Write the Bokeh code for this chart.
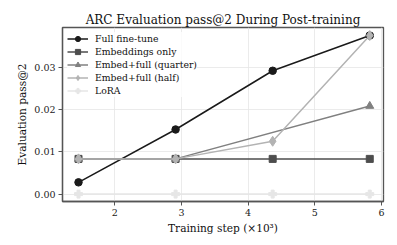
from bokeh.plotting import figure
from bokeh.embed import file_html
from bokeh.resources import INLINE
from bokeh.models import FixedTicker, NumeralTickFormatter, Range1d, Legend, LegendItem

steps = [1.456, 2.912, 4.368, 5.824]
full_ft = [0.00278, 0.01528, 0.02917, 0.0375]
emb_only = [0.00833, 0.00833, 0.00833, 0.00833]
quarter_x = [1.456, 2.912, 5.824]
quarter = [0.00833, 0.00833, 0.02083]
half = [0.00833, 0.00833, 0.0125, 0.0375]
lora = [0.0, 0.0, 0.0, 0.0]

FONT = "DejaVu Serif"

p = figure(width=389, height=237, output_backend="svg", toolbar_location=None,
           x_range=Range1d(1.216, 6.03), y_range=Range1d(-0.00175, 0.0394),
           min_border_left=62, min_border_right=6, min_border_top=27, min_border_bottom=36)

p.title.text = "ARC Evaluation pass@2 During Post-training"
p.title.text_font = FONT
p.title.text_font_size = "12px"
p.title.text_font_style = "normal"
p.title.text_color = "#111111"
p.title.align = "center"
p.title.offset = 0
p.title.standoff = 2

p.outline_line_color = "#555555"
p.outline_line_width = 1.3
p.outline_line_alpha = 1

for ax in (p.xaxis[0], p.yaxis[0]):
    ax.axis_line_color = "#555555"
    ax.axis_line_width = 1.3
    ax.major_tick_line_color = "#555555"
    ax.major_tick_out = 4
    ax.major_tick_in = 0
    ax.minor_tick_line_color = None
    ax.major_label_text_font = FONT
    ax.major_label_text_font_size = "9.5px"
    ax.major_label_text_color = "#222222"
    ax.axis_label_text_font = FONT
    ax.axis_label_text_font_size = "10.6px"
    ax.axis_label_text_font_style = "normal"
    ax.axis_label_text_color = "#111111"

p.xaxis.ticker = FixedTicker(ticks=[2, 3, 4, 5, 6])
p.yaxis.ticker = FixedTicker(ticks=[0.0, 0.01, 0.02, 0.03])
p.yaxis.formatter = NumeralTickFormatter(format="0.00")
p.xaxis.axis_label = "Training step (×10³)"
p.yaxis.axis_label = "Evaluation pass@2"
p.xaxis.axis_label_standoff = 3
p.yaxis.axis_label_standoff = 3
p.xaxis.major_label_standoff = 3
p.yaxis.major_label_standoff = 3

p.xgrid.grid_line_color = "#e6e6e6"
p.ygrid.grid_line_color = "#e6e6e6"
p.xgrid.grid_line_width = 0.8
p.ygrid.grid_line_width = 0.8

items = []
series = [
    ("Full fine-tune", steps, full_ft, "#1a1a1a", "circle", 7.5),
    ("Embeddings only", steps, emb_only, "#4d4d4d", "square", 7),
    ("Embed+full (quarter)", quarter_x, quarter, "#808080", "triangle", 8),
    ("Embed+full (half)", steps, half, "#b3b3b3", "diamond", 10),
    ("LoRA", steps, lora, "#e6e6e6", "plus", 8),
]
for name, xs, ys, col, mk, sz in series:
    r1 = p.line(xs, ys, line_color=col, line_width=1.5)
    r2 = p.scatter(xs, ys, marker=mk, size=sz, fill_color=col, line_color=col)
    items.append(LegendItem(label=name, renderers=[r1, r2]))

legend = Legend(items=items, location="top_left")
legend.label_text_font = FONT
legend.label_text_font_size = "9.3px"
legend.label_text_color = "#111111"
legend.border_line_color = None
legend.background_fill_alpha = 0.8
legend.glyph_width = 21
legend.glyph_height = 13
legend.label_height = 13
legend.spacing = 0
legend.padding = 3
legend.margin = 5
legend.label_standoff = 7
p.add_layout(legend)

open("out.html", "w").write(file_html(p, INLINE))
